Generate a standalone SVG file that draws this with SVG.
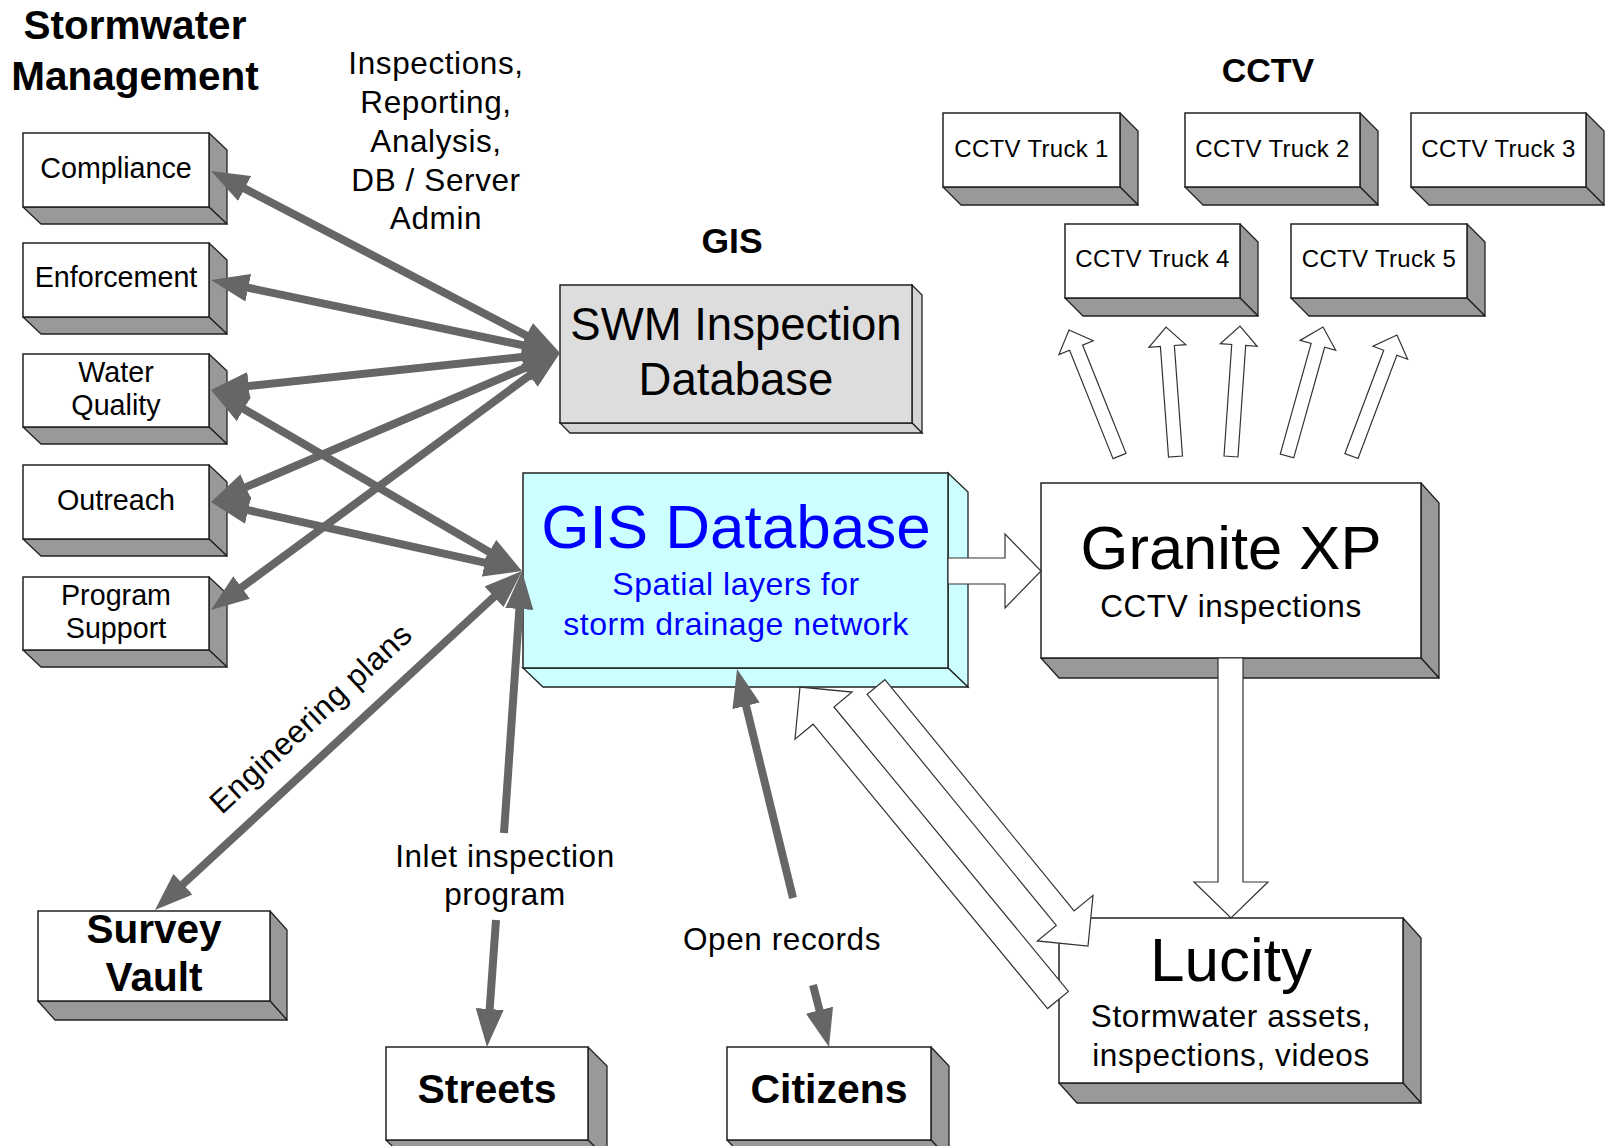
<svg xmlns="http://www.w3.org/2000/svg" width="1608" height="1146" viewBox="0 0 1608 1146">
<style>
text{font-family:"Liberation Sans",Arial,sans-serif;fill:#000}
.t{text-anchor:middle}
.b{font-weight:bold}
.face{fill:#999;stroke:#222;stroke-width:1.3;stroke-linejoin:round}
.front{fill:#fff;stroke:#222;stroke-width:1.5}
.swmf{fill:#ddd;stroke:#222;stroke-width:1.5}
.swms{fill:#d4d4d4;stroke:#222;stroke-width:1.3}
.gisf{fill:#ccffff;stroke:#222;stroke-width:1.5}
.giss{fill:#ccffff;stroke:#222;stroke-width:1.3}
.ln{stroke:#666;stroke-width:8;fill:none}
.hol{fill:#fff;stroke:#333;stroke-width:1.2;stroke-linejoin:miter}
.lbl{font-size:31.5px;letter-spacing:0.6px}
.box{font-size:28.7px}
.trk{font-size:24px;letter-spacing:0.3px}
.sub{font-size:31.5px;letter-spacing:0.6px}
.blue{fill:#0000ff}
</style>
<defs>
<marker id="ah" markerUnits="userSpaceOnUse" markerWidth="38" markerHeight="28" viewBox="0 0 38 28" refX="18" refY="14" orient="auto-start-reverse">
<path d="M0,0 L38,14 L0,28 z" fill="#666"/>
</marker>
</defs>

<!-- titles -->
<text class="t b" x="135" y="39" font-size="40.5">Stormwater</text>
<text class="t b" x="135" y="90" font-size="40.5">Management</text>
<g class="lbl">
<text class="t" x="436" y="74">Inspections,</text>
<text class="t" x="436" y="113">Reporting,</text>
<text class="t" x="436" y="152">Analysis,</text>
<text class="t" x="436" y="191">DB / Server</text>
<text class="t" x="436" y="229">Admin</text>
</g>
<text class="t b" x="732" y="253" font-size="35.5">GIS</text>
<text class="t b" x="1268" y="82" font-size="34">CCTV</text>

<!-- left boxes -->
<g id="compliance">
<polygon class="face" points="209,133 227,150 227,224 209,207"/>
<polygon class="face" points="23,207 209,207 227,224 41,224"/>
<rect class="front" x="23" y="133" width="186" height="74"/>
<text class="t box" x="116" y="178">Compliance</text>
</g>
<g id="enforcement">
<polygon class="face" points="209,243 227,260 227,334 209,317"/>
<polygon class="face" points="23,317 209,317 227,334 41,334"/>
<rect class="front" x="23" y="243" width="186" height="74"/>
<text class="t box" x="116" y="287">Enforcement</text>
</g>
<g id="water-quality">
<polygon class="face" points="209,354 227,371 227,444 209,427"/>
<polygon class="face" points="23,427 209,427 227,444 41,444"/>
<rect class="front" x="23" y="354" width="186" height="73"/>
<text class="t box" x="116" y="382">Water</text>
<text class="t box" x="116" y="415">Quality</text>
</g>
<g id="outreach">
<polygon class="face" points="209,465 227,482 227,556 209,539"/>
<polygon class="face" points="23,539 209,539 227,556 41,556"/>
<rect class="front" x="23" y="465" width="186" height="74"/>
<text class="t box" x="116" y="510">Outreach</text>
</g>
<g id="program-support">
<polygon class="face" points="209,577 227,594 227,667 209,650"/>
<polygon class="face" points="23,650 209,650 227,667 41,667"/>
<rect class="front" x="23" y="577" width="186" height="73"/>
<text class="t box" x="116" y="605">Program</text>
<text class="t box" x="116" y="638">Support</text>
</g>

<!-- SWM -->
<g id="swm-db">
<polygon class="swms" points="912,285 922,295 922,433 912,423"/>
<polygon class="swms" points="560,423 912,423 922,433 570,433"/>
<rect class="swmf" x="560" y="285" width="352" height="138"/>
<text class="t" x="736" y="340" font-size="45.5">SWM Inspection</text>
<text class="t" x="736" y="395" font-size="45.5">Database</text>
</g>

<!-- GIS -->
<g id="gis-db">
<polygon class="giss" points="948,473 968,492 968,687 948,668"/>
<polygon class="giss" points="523,668 948,668 968,687 543,687"/>
<rect class="gisf" x="523" y="473" width="425" height="195"/>
<text class="t blue" x="736" y="548" font-size="62">GIS Database</text>
<text class="t blue" x="736" y="595" font-size="32" letter-spacing="0.5">Spatial layers for</text>
<text class="t blue" x="736" y="635" font-size="32" letter-spacing="0.5">storm drainage network</text>
</g>

<!-- CCTV trucks -->
<g id="truck1">
<polygon class="face" points="1120,113 1138,131 1138,205 1120,187"/>
<polygon class="face" points="943,187 1120,187 1138,205 961,205"/>
<rect class="front" x="943" y="113" width="177" height="74"/>
<text class="t trk" x="1031.5" y="157">CCTV Truck 1</text>
</g>
<g id="truck2">
<polygon class="face" points="1360,113 1378,131 1378,205 1360,187"/>
<polygon class="face" points="1185,187 1360,187 1378,205 1203,205"/>
<rect class="front" x="1185" y="113" width="175" height="74"/>
<text class="t trk" x="1272.5" y="157">CCTV Truck 2</text>
</g>
<g id="truck3">
<polygon class="face" points="1586,113 1604,131 1604,205 1586,187"/>
<polygon class="face" points="1411,187 1586,187 1604,205 1429,205"/>
<rect class="front" x="1411" y="113" width="175" height="74"/>
<text class="t trk" x="1498.5" y="157">CCTV Truck 3</text>
</g>
<g id="truck4">
<polygon class="face" points="1240,224 1258,242 1258,316 1240,298"/>
<polygon class="face" points="1065,298 1240,298 1258,316 1083,316"/>
<rect class="front" x="1065" y="224" width="175" height="74"/>
<text class="t trk" x="1152.5" y="267">CCTV Truck 4</text>
</g>
<g id="truck5">
<polygon class="face" points="1467,224 1485,242 1485,316 1467,298"/>
<polygon class="face" points="1291,298 1467,298 1485,316 1309,316"/>
<rect class="front" x="1291" y="224" width="176" height="74"/>
<text class="t trk" x="1379" y="267">CCTV Truck 5</text>
</g>

<!-- Granite XP -->
<g id="granite">
<polygon class="face" points="1421,483 1439,503 1439,678 1421,658"/>
<polygon class="face" points="1041,658 1421,658 1439,678 1059,678"/>
<rect class="front" x="1041" y="483" width="380" height="175"/>
<text class="t" x="1231" y="569" font-size="61.5">Granite XP</text>
<text class="t sub" x="1231" y="617">CCTV inspections</text>
</g>

<!-- Lucity -->
<g id="lucity">
<polygon class="face" points="1403,918 1421,938 1421,1103 1403,1083"/>
<polygon class="face" points="1059,1083 1403,1083 1421,1103 1077,1103"/>
<rect class="front" x="1059" y="918" width="344" height="165"/>
<text class="t" x="1231" y="981" font-size="62">Lucity</text>
<text class="t sub" x="1231" y="1027">Stormwater assets,</text>
<text class="t sub" x="1231" y="1066">inspections, videos</text>
</g>

<!-- Survey Vault -->
<g id="survey-vault">
<polygon class="face" points="270,911 287,930 287,1020 270,1001"/>
<polygon class="face" points="38,1001 270,1001 287,1020 55,1020"/>
<rect class="front" x="38" y="911" width="232" height="90"/>
<text class="t b" x="154" y="943" font-size="40.5">Survey</text>
<text class="t b" x="154" y="991" font-size="40.5">Vault</text>
</g>

<!-- Streets -->
<g id="streets">
<polygon class="face" points="588,1047 607,1066 607,1159 588,1140"/>
<polygon class="face" points="386,1140 588,1140 607,1159 405,1159"/>
<rect class="front" x="386" y="1047" width="202" height="93"/>
<text class="t b" x="487" y="1103" font-size="41">Streets</text>
</g>

<!-- Citizens -->
<g id="citizens">
<polygon class="face" points="931,1047 949,1066 949,1159 931,1140"/>
<polygon class="face" points="727,1140 931,1140 949,1159 745,1159"/>
<rect class="front" x="727" y="1047" width="204" height="93"/>
<text class="t b" x="829" y="1103" font-size="41">Citizens</text>
</g>

<!-- connectors -->
<g id="connectors">
<line class="ln" x1="228.7" y1="180.2" x2="542.3" y2="343.8" marker-start="url(#ah)" marker-end="url(#ah)"/>
<line class="ln" x1="230.6" y1="284.1" x2="540.4" y2="348.9" marker-start="url(#ah)" marker-end="url(#ah)"/>
<line class="ln" x1="230.9" y1="387.9" x2="540.1" y2="355.1" marker-start="url(#ah)" marker-end="url(#ah)"/>
<line class="ln" x1="229.4" y1="494.1" x2="541.6" y2="360.9" marker-start="url(#ah)" marker-end="url(#ah)"/>
<line class="ln" x1="227.1" y1="598.1" x2="543.9" y2="364.9" marker-start="url(#ah)" marker-end="url(#ah)"/>
<line class="ln" x1="228.3" y1="400.0" x2="504.7" y2="561.0" marker-start="url(#ah)" marker-end="url(#ah)"/>
<line class="ln" x1="230.5" y1="506.3" x2="502.5" y2="566.7" marker-start="url(#ah)" marker-end="url(#ah)"/>
<line class="ln" x1="169.7" y1="896.4" x2="507.3" y2="584.6" marker-start="url(#ah)" marker-end="url(#ah)"/>
<line class="ln" x1="504" y1="833" x2="520.6" y2="591" marker-end="url(#ah)"/>
<line class="ln" x1="496" y1="920" x2="488.4" y2="1027" marker-end="url(#ah)"/>
<line class="ln" x1="793" y1="898" x2="741.8" y2="688.4" marker-end="url(#ah)"/>
<line class="ln" x1="813" y1="985" x2="824" y2="1027.6" marker-end="url(#ah)"/>

<polygon class="hol" points="948,558 1005,558 1005,534 1041,571 1005,608 1005,584 948,584"/>
<polygon class="hol" points="1218,658 1243,658 1243,882 1268,882 1231,918 1194,882 1218,882"/>
<path class="hol" transform="translate(876,687) rotate(50.7)" d="M0,-11.5 L298.7,-11.5 L298.7,-36 L334.7,0 L298.7,36 L298.7,11.5 L0,11.5 Z"/>
<path class="hol" transform="translate(1058,1000) rotate(-129.5)" d="M0,-13.5 L368.6,-13.5 L368.6,-37 L405.6,0 L368.6,37 L368.6,13.5 L0,13.5 Z"/>

<path class="hol" transform="translate(1119.5,456) rotate(-111.84)" d="M0,-7 L116.7,-7 L116.7,-18.5 L135.7,0 L116.7,18.5 L116.7,7 L0,7 Z"/>
<path class="hol" transform="translate(1175.5,456.5) rotate(-94.2)" d="M0,-7 L110.8,-7 L110.8,-18.5 L129.8,0 L110.8,18.5 L110.8,7 L0,7 Z"/>
<path class="hol" transform="translate(1231,456.5) rotate(-86.05)" d="M0,-7 L111.8,-7 L111.8,-18.5 L130.8,0 L111.8,18.5 L111.8,7 L0,7 Z"/>
<path class="hol" transform="translate(1287,456) rotate(-74.4)" d="M0,-7 L114.9,-7 L114.9,-18.5 L133.9,0 L114.9,18.5 L114.9,7 L0,7 Z"/>
<path class="hol" transform="translate(1351.5,456) rotate(-69.4)" d="M0,-7 L110.3,-7 L110.3,-18.5 L129.3,0 L110.3,18.5 L110.3,7 L0,7 Z"/>

<text class="t lbl" transform="translate(318,726) rotate(-42.8)">Engineering plans</text>
<text class="t lbl" x="505" y="867">Inlet inspection</text>
<text class="t lbl" x="505" y="905">program</text>
<text class="t lbl" x="782" y="950">Open records</text>
</g>
</svg>
